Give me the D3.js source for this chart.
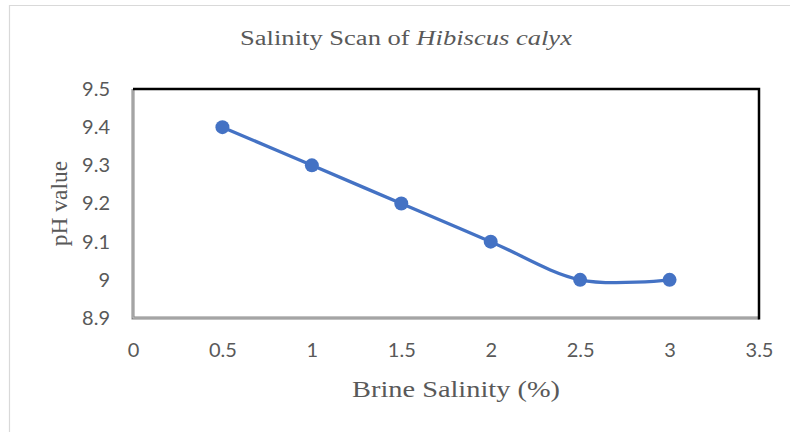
<!DOCTYPE html>
<html>
<head>
<meta charset="utf-8">
<script src="https://cdn.jsdelivr.net/npm/d3@7"></script>
<style>
body { margin: 0; background: #fff; }
.tick text { font-family: Lato, "Open Sans", sans-serif; font-size: 20px; fill: #595959; }
.ttl { font-family: "Liberation Serif", "Times New Roman", serif; fill: #595959; }
</style>
</head>
<body>
<div id="chart"></div>
<script>
var width = 790;
var height = 432;

// data
var salinity = [0.5, 1, 1.5, 2, 2.5, 3];
var phValue = [9.4, 9.3, 9.2, 9.1, 9.0, 9.0];
var xTicks = [0, 0.5, 1, 1.5, 2, 2.5, 3, 3.5];
var yTicks = [8.9, 9.0, 9.1, 9.2, 9.3, 9.4, 9.5];

var svg = d3.select("#chart").append("svg")
  .attr("width", width)
  .attr("height", height);

// plot area box (note: "top" is taken by window.top, so prefix these)
var plotLeft = 133, plotRight = 759, plotTop = 89, plotBottom = 318;

var x = d3.scaleLinear().domain([0, 3.5]).range([plotLeft, plotRight]);
var y = d3.scaleLinear().domain([8.9, 9.5]).range([plotBottom, plotTop]);

// outer chart border (only top and left show in the crop)
svg.append("path")
  .attr("d", "M9.5," + height + "V5.5H" + width)
  .attr("fill", "none")
  .attr("stroke", "#d9d9d9")
  .attr("stroke-width", 1.2);

// plot frame: grey left/bottom, black top/right
var lb = "M" + plotLeft + "," + plotTop + "V" + plotBottom + "H" + plotRight;
svg.append("path")
  .attr("d", lb)
  .attr("fill", "none")
  .attr("stroke", "#858585")
  .attr("stroke-width", 3);
svg.append("path")
  .attr("d", lb)
  .attr("fill", "none")
  .attr("stroke", "#c4c4c4")
  .attr("stroke-width", 1);
svg.append("path")
  .attr("d", "M" + plotLeft + "," + plotTop + "H" + plotRight + "V" + (plotBottom + 1.5))
  .attr("fill", "none")
  .attr("stroke", "#000")
  .attr("stroke-width", 2.5);

// axes, labels only
svg.append("g")
  .attr("transform", "translate(" + plotLeft + ",0)")
  .call(d3.axisLeft(y).tickValues(yTicks).tickSize(0).tickPadding(23).tickFormat(d3.format("")))
  .call(function(g) { g.select(".domain").remove(); });

svg.append("g")
  .attr("transform", "translate(0," + plotBottom + ")")
  .call(d3.axisBottom(x).tickValues(xTicks).tickSize(0).tickPadding(25).tickFormat(d3.format("")))
  .call(function(g) { g.select(".domain").remove(); });

// smoothed line like Excel
var line = d3.line()
  .x(function(d, i) { return x(salinity[i]); })
  .y(function(d) { return y(d); })
  .curve(d3.curveCardinal.tension(0));

svg.append("path")
  .datum(phValue)
  .attr("d", line)
  .attr("fill", "none")
  .attr("stroke", "#4472c4")
  .attr("stroke-width", 3.3);

svg.selectAll("circle.pt")
  .data(phValue)
  .enter()
  .append("circle")
  .attr("class", "pt")
  .attr("cx", function(d, i) { return x(salinity[i]); })
  .attr("cy", function(d) { return y(d); })
  .attr("r", 7)
  .attr("fill", "#4472c4");

// the source text is wider than its height suggests, so stretch it sideways
function stretchTo(sel, cx, cy, w) {
  var len = sel.node().getComputedTextLength();
  sel.attr("transform", "translate(" + cx + "," + cy + ") scale(" + (w / len) + ",1)");
}

// title
var title = svg.append("text")
  .attr("class", "ttl")
  .attr("text-anchor", "middle")
  .attr("font-size", 20.5);
title.append("tspan").text("Salinity Scan of ");
title.append("tspan").attr("font-style", "italic").text("Hibiscus calyx");
stretchTo(title, 406, 45, 332);

// x axis title
var xTitle = svg.append("text")
  .attr("class", "ttl")
  .attr("text-anchor", "middle")
  .attr("font-size", 23)
  .text("Brine Salinity (%)");
stretchTo(xTitle, 456, 397, 208);

// y axis title
svg.append("text")
  .attr("class", "ttl")
  .attr("transform", "translate(67," + ((plotTop + plotBottom) / 2) + ") rotate(-90)")
  .attr("text-anchor", "middle")
  .attr("font-size", 23.5)
  .text("pH value");
</script>
</body>
</html>
